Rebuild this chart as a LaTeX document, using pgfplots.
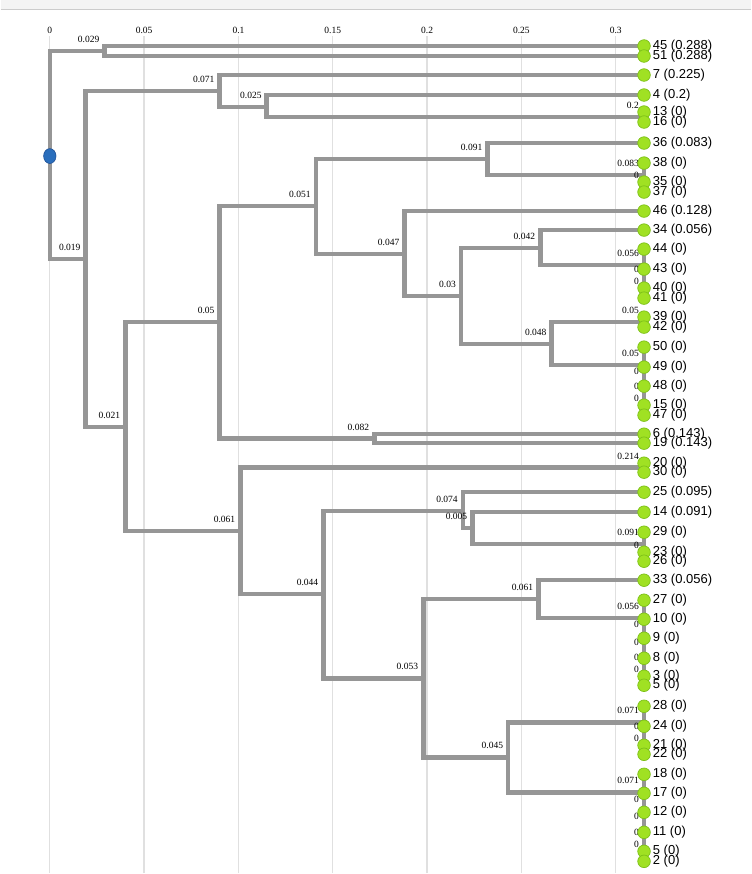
\documentclass[border=0pt]{standalone}
\usepackage{pgfplots}
\pgfplotsset{compat=1.18}
\usepackage{fontspec}
\setmainfont{Liberation Serif}
\newfontfamily\leaffont{Liberation Sans}
\definecolor{treegray}{RGB}{150,150,150}
\definecolor{leafgreen}{RGB}{160,225,35}
\definecolor{leafedge}{RGB}{125,192,25}
\definecolor{rootblue}{RGB}{42,110,188}
\definecolor{rootedge}{RGB}{30,80,150}
\definecolor{gridgray}{RGB}{224,224,224}
\tikzset{tree/.style={draw=treegray, line width=4.5pt, line cap=rect, line join=miter, mark=none}}
\begin{document}
\begin{tikzpicture}
\begin{axis}[
  scale only axis, width=750pt, height=837pt,
  xmin=-0.02614, xmax=0.3716, ymin=-874, ymax=-37,
  clip=false,
  axis line style={draw=none},
  xtick={0,0.05,0.1,0.15,0.2,0.25,0.3},
  xticklabels={0,0.05,0.1,0.15,0.2,0.25,0.3},
  xticklabel pos=upper,
  ytick=\empty,
  major tick length=0pt,
  xmajorgrids, grid style={draw=gridgray, line width=1.3pt},
  xticklabel style={font=\fontsize{9.5}{10}\selectfont, anchor=base, yshift=3pt},
]
% top band
\fill[gray!9] (axis cs:-0.02614,-1) rectangle (axis cs:0.3716,-11);
\draw[gray!40, line width=1pt] (axis cs:-0.02614,-11) -- (axis cs:0.3716,-11);
% tree edges: child1 -> node -> child2
\addplot[tree] coordinates {(0.029,-52)(0,-52)(0,-260)(0.019,-260)};
\addplot[tree] coordinates {(0.315,-47)(0.029,-47)(0.029,-57)(0.315,-57)};
\addplot[tree] coordinates {(0.090,-92)(0.019,-92)(0.019,-428)(0.040,-428)};
\addplot[tree] coordinates {(0.315,-76)(0.090,-76)(0.090,-108)(0.115,-108)};
\addplot[tree] coordinates {(0.315,-96)(0.115,-96)(0.115,-118)(0.315,-118)};
\addplot[tree] coordinates {(0.315,-113)(0.315,-123)};
\addplot[tree] coordinates {(0.090,-323)(0.040,-323)(0.040,-532)(0.101,-532)};
\addplot[tree] coordinates {(0.141,-207)(0.090,-207)(0.090,-439.5)(0.172,-439.5)};
\addplot[tree] coordinates {(0.232,-160)(0.141,-160)(0.141,-255)(0.188,-255)};
\addplot[tree] coordinates {(0.315,-144)(0.232,-144)(0.232,-176)(0.315,-176)};
\addplot[tree] coordinates {(0.315,-164)(0.315,-193)};
\addplot[tree] coordinates {(0.315,-212)(0.188,-212)(0.188,-297)(0.218,-297)};
\addplot[tree] coordinates {(0.260,-249)(0.218,-249)(0.218,-345)(0.266,-345)};
\addplot[tree] coordinates {(0.315,-231)(0.260,-231)(0.260,-266)(0.315,-266)};
\addplot[tree] coordinates {(0.315,-250)(0.315,-299)};
\addplot[tree] coordinates {(0.315,-323)(0.266,-323)(0.266,-366)(0.315,-366)};
\addplot[tree] coordinates {(0.315,-318)(0.315,-328)};
\addplot[tree] coordinates {(0.315,-348)(0.315,-416)};
\addplot[tree] coordinates {(0.315,-435)(0.172,-435)(0.172,-444)(0.315,-444)};
\addplot[tree] coordinates {(0.315,-468.5)(0.101,-468.5)(0.101,-595)(0.145,-595)};
\addplot[tree] coordinates {(0.315,-464)(0.315,-473)};
\addplot[tree] coordinates {(0.219,-512)(0.145,-512)(0.145,-679)(0.198,-679)};
\addplot[tree] coordinates {(0.315,-493)(0.219,-493)(0.219,-529)(0.224,-529)};
\addplot[tree] coordinates {(0.315,-513)(0.224,-513)(0.224,-545)(0.315,-545)};
\addplot[tree] coordinates {(0.315,-533)(0.315,-562)};
\addplot[tree] coordinates {(0.259,-600)(0.198,-600)(0.198,-758)(0.243,-758)};
\addplot[tree] coordinates {(0.315,-581)(0.259,-581)(0.259,-619)(0.315,-619)};
\addplot[tree] coordinates {(0.315,-601)(0.315,-686)};
\addplot[tree] coordinates {(0.315,-723)(0.243,-723)(0.243,-793)(0.315,-793)};
\addplot[tree] coordinates {(0.315,-707)(0.315,-755)};
\addplot[tree] coordinates {(0.315,-775)(0.315,-862)};
% edge length labels
\addplot[only marks, mark=none, nodes near coords, point meta=explicit symbolic,
  every node near coord/.style={anchor=base east, inner sep=0pt, xshift=-5pt, yshift=8.5pt, font=\fontsize{9.5}{10}\selectfont, text=black}]
  table[col sep=comma, row sep=\\, meta=lab] {
x,y,lab\\
0.029,-52,0.029\\
0.019,-260,0.019\\
0.090,-92,0.071\\
0.115,-108,0.025\\
0.315,-118,0.2\\
0.040,-428,0.021\\
0.090,-323,0.05\\
0.141,-207,0.051\\
0.232,-160,0.091\\
0.315,-176,0.083\\
0.315,-188,0\\
0.188,-255,0.047\\
0.218,-297,0.03\\
0.260,-249,0.042\\
0.315,-266,0.056\\
0.315,-282,0\\
0.315,-294,0\\
0.266,-345,0.048\\
0.315,-323,0.05\\
0.315,-366,0.05\\
0.315,-383.5,0\\
0.315,-399,0\\
0.315,-411,0\\
0.172,-439.5,0.082\\
0.101,-532,0.061\\
0.315,-468.5,0.214\\
0.145,-595,0.044\\
0.219,-512,0.074\\
0.224,-529,0.005\\
0.315,-545,0.091\\
0.315,-557.5,0\\
0.198,-679,0.053\\
0.259,-600,0.061\\
0.315,-619,0.056\\
0.315,-637,0\\
0.315,-654.5,0\\
0.315,-670,0\\
0.315,-681.5,0\\
0.243,-758,0.045\\
0.315,-723,0.071\\
0.315,-739,0\\
0.315,-750.5,0\\
0.315,-793,0.071\\
0.315,-811.5,0\\
0.315,-829,0\\
0.315,-845,0\\
0.315,-857,0\\
};
% leaves
\addplot[only marks, mark=*, mark size=6.3pt, mark options={fill=leafgreen, draw=leafedge, line width=0.7pt},
  nodes near coords, point meta=explicit symbolic,
  every node near coord/.style={anchor=west, inner sep=0pt, xshift=8.5pt, yshift=0pt, font=\leaffont\fontsize{13}{14}\selectfont, text=black}]
  table[col sep=comma, row sep=\\, meta=lab] {
x,y,lab\\
0.315,-47,45 (0.288)\\
0.315,-57,51 (0.288)\\
0.315,-76,7 (0.225)\\
0.315,-96,4 (0.2)\\
0.315,-113,13 (0)\\
0.315,-123,16 (0)\\
0.315,-144,36 (0.083)\\
0.315,-164,38 (0)\\
0.315,-183,35 (0)\\
0.315,-193,37 (0)\\
0.315,-212,46 (0.128)\\
0.315,-231,34 (0.056)\\
0.315,-250,44 (0)\\
0.315,-270,43 (0)\\
0.315,-289,40 (0)\\
0.315,-299,41 (0)\\
0.315,-318,39 (0)\\
0.315,-328,42 (0)\\
0.315,-348,50 (0)\\
0.315,-368,49 (0)\\
0.315,-387,48 (0)\\
0.315,-406,15 (0)\\
0.315,-416,47 (0)\\
0.315,-435,6 (0.143)\\
0.315,-444,19 (0.143)\\
0.315,-464,20 (0)\\
0.315,-473,30 (0)\\
0.315,-493,25 (0.095)\\
0.315,-513,14 (0.091)\\
0.315,-533,29 (0)\\
0.315,-553,23 (0)\\
0.315,-562,26 (0)\\
0.315,-581,33 (0.056)\\
0.315,-601,27 (0)\\
0.315,-620,10 (0)\\
0.315,-639,9 (0)\\
0.315,-659,8 (0)\\
0.315,-677,3 (0)\\
0.315,-686,5 (0)\\
0.315,-707,28 (0)\\
0.315,-727,24 (0)\\
0.315,-746,21 (0)\\
0.315,-755,22 (0)\\
0.315,-775,18 (0)\\
0.315,-794,17 (0)\\
0.315,-813,12 (0)\\
0.315,-833,11 (0)\\
0.315,-852,5 (0)\\
0.315,-862,2 (0)\\
};
% root
\addplot[only marks, mark=*, mark size=6.2pt, mark options={yscale=1.2, fill=rootblue, draw=rootedge, line width=0.6pt}] coordinates {(0,-157)};
\end{axis}
\end{tikzpicture}
\end{document}
